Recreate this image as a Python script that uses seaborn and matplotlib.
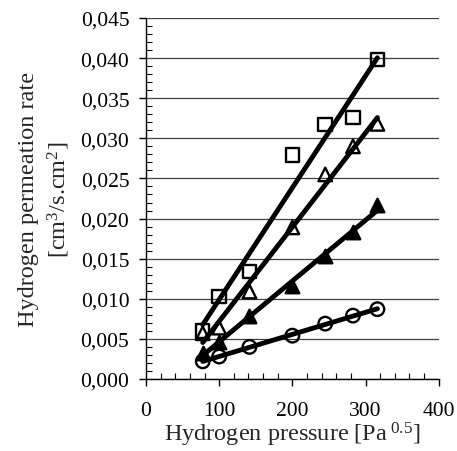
import numpy as np
import pandas as pd
import matplotlib
matplotlib.use("Agg")
import matplotlib.pyplot as plt
import seaborn as sns
from matplotlib.ticker import MultipleLocator, FuncFormatter

# data
pressure = [77.5, 100, 141.4, 200, 244.9, 282.8, 316.2]
rate_square = [0.0060, 0.0103, 0.0134, 0.0279, 0.0317, 0.0326, 0.0398]
rate_open_tri = [0.0057, 0.0064, 0.0109, 0.0189, 0.0255, 0.0290, 0.0318]
rate_filled_tri = [0.0033, 0.0046, 0.0079, 0.0116, 0.0153, 0.0183, 0.0217]
rate_circle = [0.0022, 0.0028, 0.0040, 0.0054, 0.0069, 0.0079, 0.0087]

series = [
    ("square", rate_square, "s", "none"),
    ("open_tri", rate_open_tri, "^", "none"),
    ("filled_tri", rate_filled_tri, "^", "black"),
    ("circle", rate_circle, "o", "none"),
]

sns.set_style("white")
plt.rcParams["font.family"] = ["Liberation Serif", "DejaVu Serif"]
plt.rcParams["mathtext.fontset"] = "custom"
plt.rcParams["mathtext.rm"] = "Liberation Serif"
plt.rcParams["mathtext.it"] = "Liberation Serif:italic"

fig = plt.figure(figsize=(4.57, 4.52), dpi=100)
ax = fig.add_axes([0.3195, 0.1593, 0.6405, 0.7987])

for name, vals, marker, face in series:
    df = pd.DataFrame({"x": pressure, "y": vals})
    sns.scatterplot(data=df, x="x", y="y", marker=marker, s=95,
                    facecolor=face, edgecolor="black", linewidth=1.7,
                    ax=ax, zorder=3)
    # linear trend line through each series
    sns.regplot(data=df, x="x", y="y", scatter=False, ci=None, truncate=True,
                line_kws={"color": "black", "lw": 3.5, "zorder": 4}, ax=ax)

ax.set_xlim(0, 400)
ax.set_ylim(0, 0.045)
ax.xaxis.set_major_locator(MultipleLocator(100))
ax.xaxis.set_minor_locator(MultipleLocator(20))
ax.yaxis.set_major_locator(MultipleLocator(0.005))
ax.yaxis.set_minor_locator(MultipleLocator(0.001))
ax.yaxis.set_major_formatter(FuncFormatter(lambda v, p: f"{v:.3f}".replace(".", ",")))

ax.tick_params(which="major", direction="out", length=5, width=1, colors="black",
               labelsize=15.5)
ax.tick_params(axis="y", which="major", pad=7)
ax.tick_params(axis="x", which="major", pad=11)
ax.tick_params(which="minor", direction="in", length=4, width=0.8, colors="black")
ax.tick_params(axis="x", which="both", bottom=True)
ax.tick_params(axis="y", which="both", left=True)

ax.yaxis.grid(True, which="major", color="#404040", lw=0.9)
ax.xaxis.grid(False)
for side in ["top", "right"]:
    ax.spines[side].set_visible(False)
for side in ["left", "bottom"]:
    ax.spines[side].set_color("black")
    ax.spines[side].set_linewidth(1)

ax.set_xlabel("Hydrogen pressure [Pa$^{\\ 0.5}$]", fontsize=17.5, labelpad=0)
ax.set_ylabel("Hydrogen permeation rate\n[cm$^3$/s.cm$^2$]", fontsize=17.5,
              labelpad=6, linespacing=1.35)

fig.savefig("out.png", dpi=100)
